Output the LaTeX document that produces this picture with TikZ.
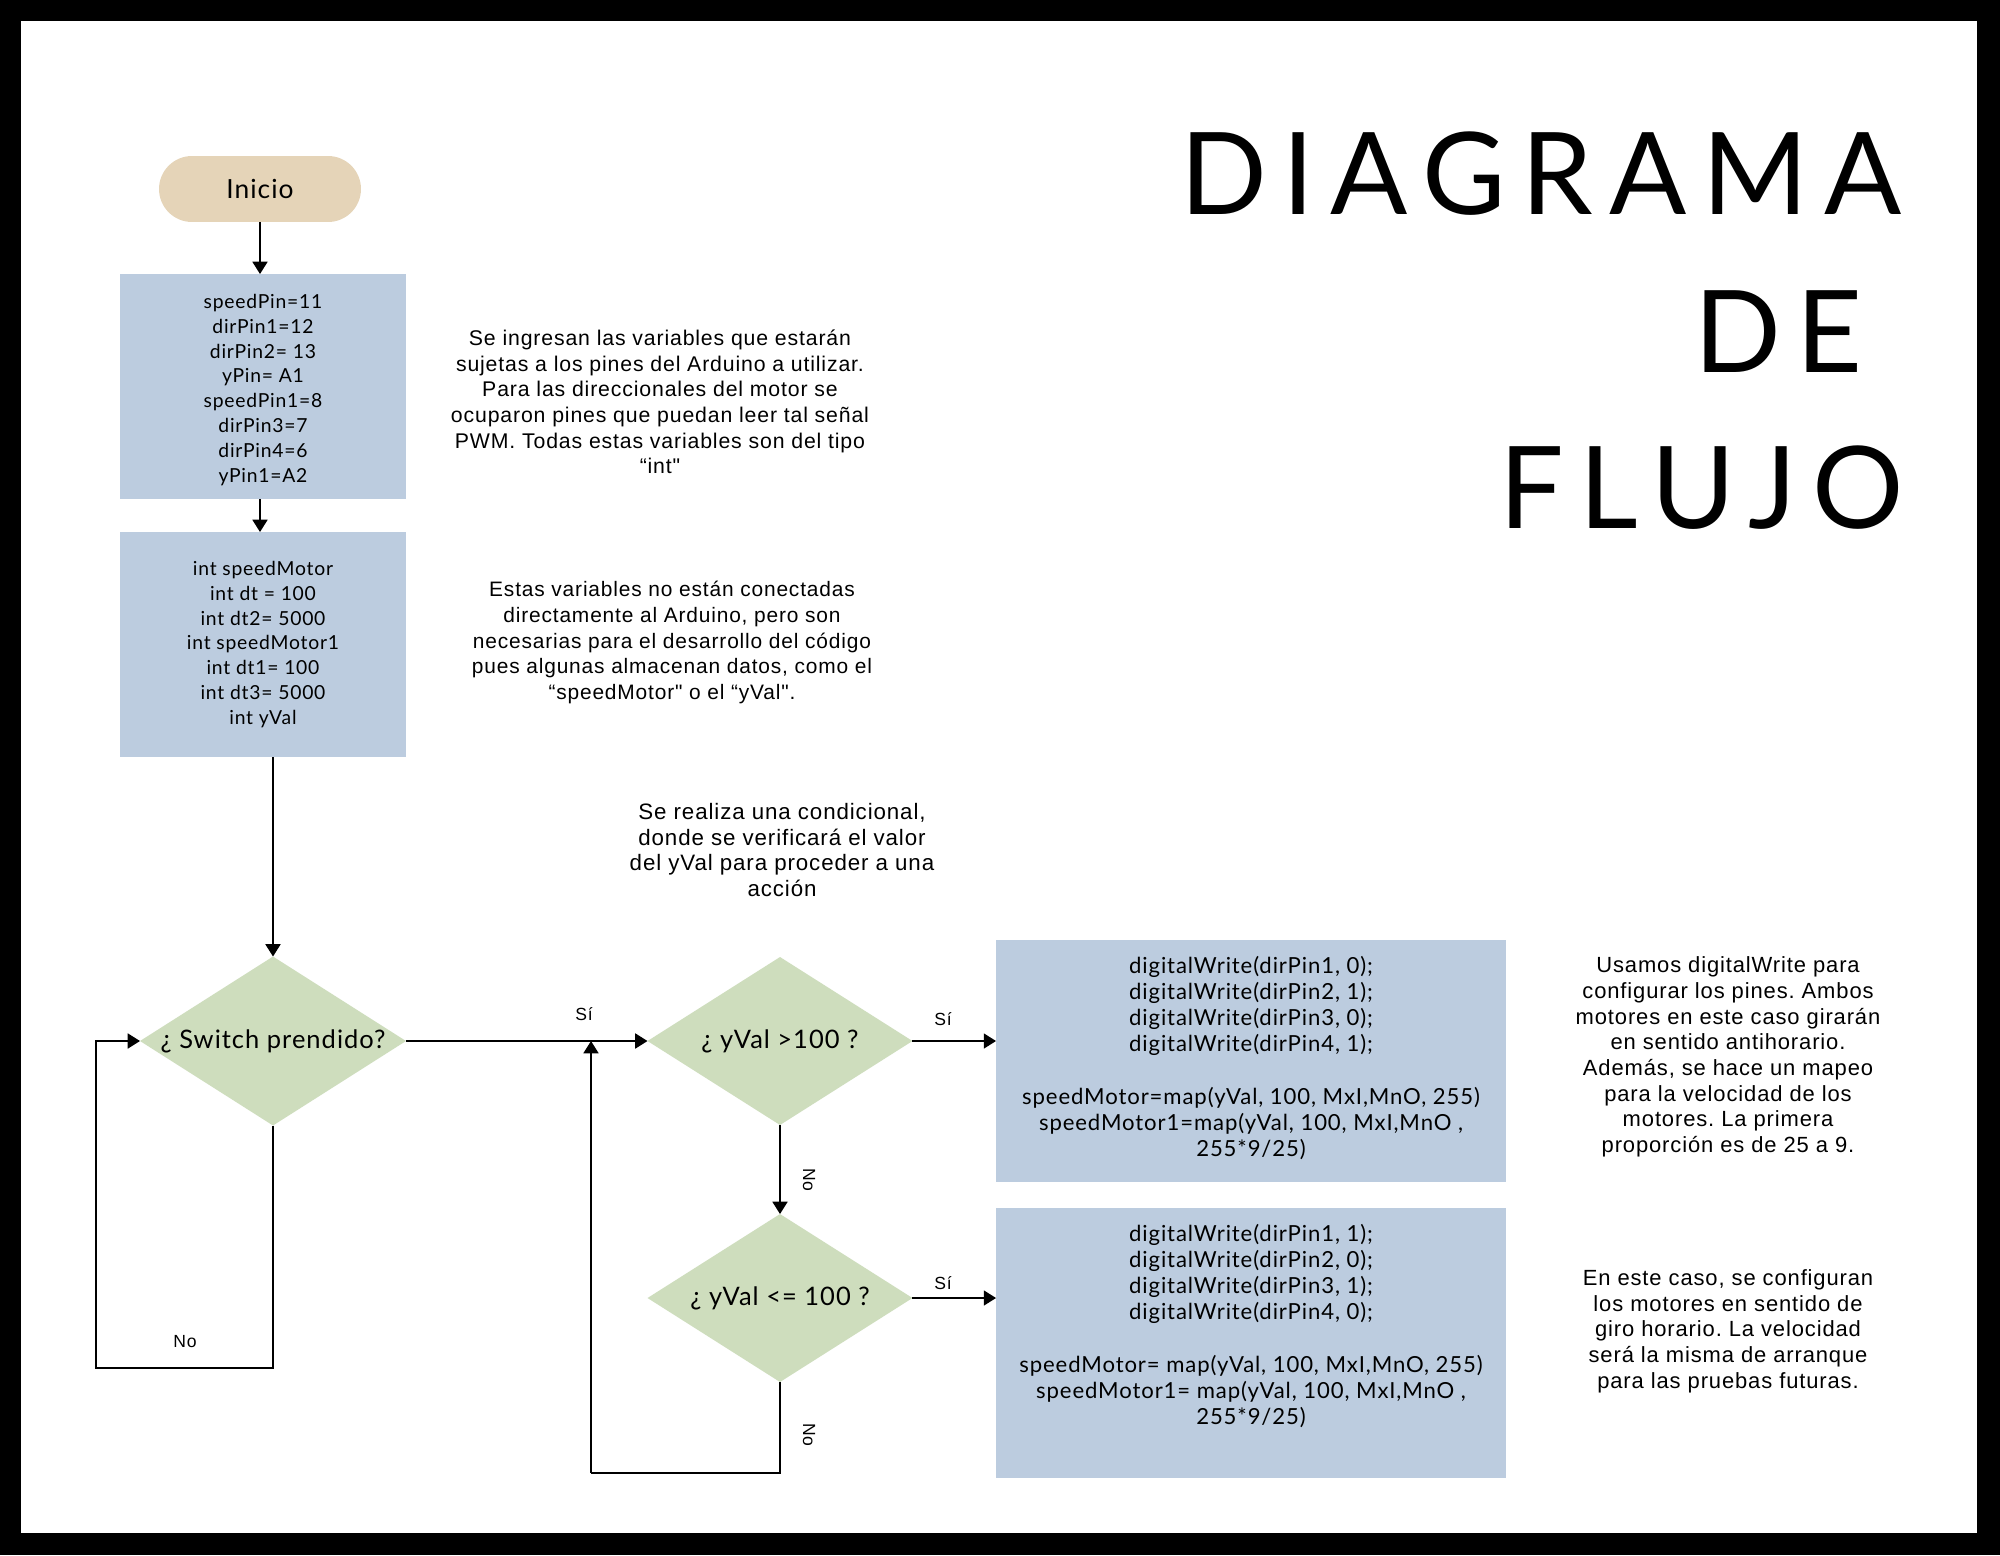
\documentclass[tikz,border=0pt]{standalone}
\usepackage{fontspec}
\setmainfont{Lato}
\newfontfamily\boxfont[LetterSpace=4]{Lato}
\newfontfamily\descfont[LetterSpace=4]{Liberation Sans}
\newfontfamily\titlefont[LetterSpace=14]{Lato}
\usetikzlibrary{shapes.geometric,arrows.meta}
\definecolor{pilltan}{HTML}{E5D4B8}
\definecolor{boxblue}{HTML}{BCCCDF}
\definecolor{diagreen}{HTML}{CEDDBD}
\frenchspacing
\tikzset{
  every node/.style={inner sep=0pt, outer sep=0pt},
  arr/.style={-{Triangle[length=7pt,width=8.5pt]}, line width=1.1pt},
  ln/.style={line width=1.1pt},
  boxst/.style={rectangle, fill=boxblue, align=center, font=\boxfont\fontsize{11}{14.2}\selectfont},
  bigbox/.style={boxst, font=\boxfont\fontsize{12.6}{14.9}\selectfont},
  dia/.style={diamond, fill=diagreen},
  diatext/.style={font=\boxfont\fontsize{14.5}{16}\selectfont},
  desc/.style={align=center, font=\descfont\fontsize{#1}{14.6}\selectfont},
  lbl/.style={font=\descfont\fontsize{10}{12}\selectfont},
  ttl/.style={anchor=base west, font=\titlefont\fontsize{65}{70}\selectfont}
}
\begin{document}
\begin{tikzpicture}[x=0.02cm,y=-0.02cm]
\useasboundingbox (0,0) rectangle (2000,1555);
\fill[black] (0,0) rectangle (2000,1555);
\fill[white] (21,21) rectangle (1977,1533);

% title
\node[ttl] (t1) at (1180,214) {DIAGRAMA};
\node[ttl] (t2) at (1694,372) {DE};
\node[ttl] (t3) at (1499,528) {FLUJO};

% start
\node[rectangle, rounded corners=0.66cm, fill=pilltan, minimum width=4.04cm, minimum height=1.32cm,
      font=\boxfont\fontsize{15}{18}\selectfont] (ini) at (260,189) {Inicio};

% boxes
\node[boxst, minimum width=5.72cm, minimum height=4.5cm] (b1) at (263,386.5) {};
\node[boxst, fill=none] (b1t) at (263,390)
  {speedPin=11\\dirPin1=12\\dirPin2= 13\\yPin= A1\\speedPin1=8\\dirPin3=7\\dirPin4=6\\yPin1=A2};
\node[boxst, minimum width=5.72cm, minimum height=4.5cm] (b2) at (263,644.5)
  {int speedMotor\\int dt = 100\\int dt2= 5000\\int speedMotor1\\int dt1= 100\\int dt3= 5000\\int yVal};
\node[bigbox, minimum width=10.2cm, minimum height=4.84cm] (b3) at (1251,1061) {};
\node[bigbox, fill=none] (b3t) at (1251,1058)
  {digitalWrite(dirPin1, 0);\\digitalWrite(dirPin2, 1);\\digitalWrite(dirPin3, 0);\\digitalWrite(dirPin4, 1);\\[14.9pt]
   speedMotor=map(yVal, 100, MxI,MnO, 255)\\speedMotor1=map(yVal, 100, MxI,MnO ,\\255*9/25)};
\node[bigbox, minimum width=10.2cm, minimum height=5.4cm] (b4) at (1251,1343) {};
\node[bigbox, fill=none] (b4t) at (1251,1326)
  {digitalWrite(dirPin1, 1);\\ digitalWrite(dirPin2, 0);\\digitalWrite(dirPin3, 1);\\ digitalWrite(dirPin4, 0);\\[14.9pt]
   speedMotor= map(yVal, 100, MxI,MnO, 255)\\speedMotor1= map(yVal, 100, MxI,MnO ,\\255*9/25)};

% diamonds
\node[dia, minimum width=5.32cm, minimum height=3.38cm] (sw) at (273,1041) {};
\node[diatext] (swt) at (sw) {¿ Switch prendido?};
\node[dia, minimum width=5.3cm, minimum height=3.36cm] (y1) at (780,1041) {};
\node[diatext] (y1t) at (y1) {¿ yVal >100 ?};
\node[dia, minimum width=5.3cm, minimum height=3.36cm] (y2) at (780,1298) {};
\node[diatext] (y2t) at (y2) {¿ yVal <= 100 ?};

% descriptions
\node[desc=12.1] (d1) at (660,402) {Se ingresan las variables que estarán\\sujetas a los pines del Arduino a utilizar.\\Para las direccionales del motor se\\ocuparon pines que puedan leer tal señal\\PWM. Todas estas variables son del tipo\\“int"};
\node[desc=11.9] (d2) at (672,642.5) {Estas variables no están conectadas\\directamente al Arduino, pero son\\necesarias para el desarrollo del código\\pues algunas almacenan datos, como el\\“speedMotor" o el “yVal".};
\node[desc=12.7] (d3) at (782,850) {Se realiza una condicional,\\donde se verificará el valor\\del yVal para proceder a una\\acción};
\node[desc=12.5] (d4) at (1728,1057) {Usamos digitalWrite para\\configurar los pines. Ambos\\motores en este caso girarán\\en sentido antihorario.\\Además, se hace un mapeo\\para la velocidad de los\\motores. La primera\\proporción es de 25 a 9.};
\node[desc=12.5] (d5) at (1728,1331) {En este caso, se configuran\\los motores en sentido de\\giro horario. La velocidad\\será la misma de arranque\\para las pruebas futuras.};

% coordinates
\coordinate (c1) at (96,1368);
\coordinate (c2) at (591,1473);
\coordinate (j) at (591,1041);

% connectors
\draw[arr] (ini.south) -- (ini.south |- b1.north);
\draw[arr] (b1.south -| ini.south) -- (ini.south |- b2.north);
\draw[arr] (b2.south -| sw.north) -- (sw.north);
\draw[arr] (sw.east) -- (y1.west);
\draw[arr] (y1.east) -- (b3.west |- y1.east);
\draw[arr] (y1.south) -- (y2.north);
\draw[arr] (y2.east) -- (b4.west |- y2.east);
\draw[arr] (sw.south) |- (c1) |- (sw.west);
\draw[ln] (y2.south) |- (c2);
\draw[arr] (c2) -- (j);

% labels
\node[lbl] (l1) at (584,1014) {Sí};
\node[lbl] (l2) at (943,1019) {Sí};
\node[lbl] (l3) at (943,1283) {Sí};
\node[lbl] (l4) at (185,1342) {No};
\node[lbl, rotate=-90] (l5) at (809,1180) {No};
\node[lbl, rotate=-90] (l6) at (809,1435) {No};
\end{tikzpicture}
\end{document}
